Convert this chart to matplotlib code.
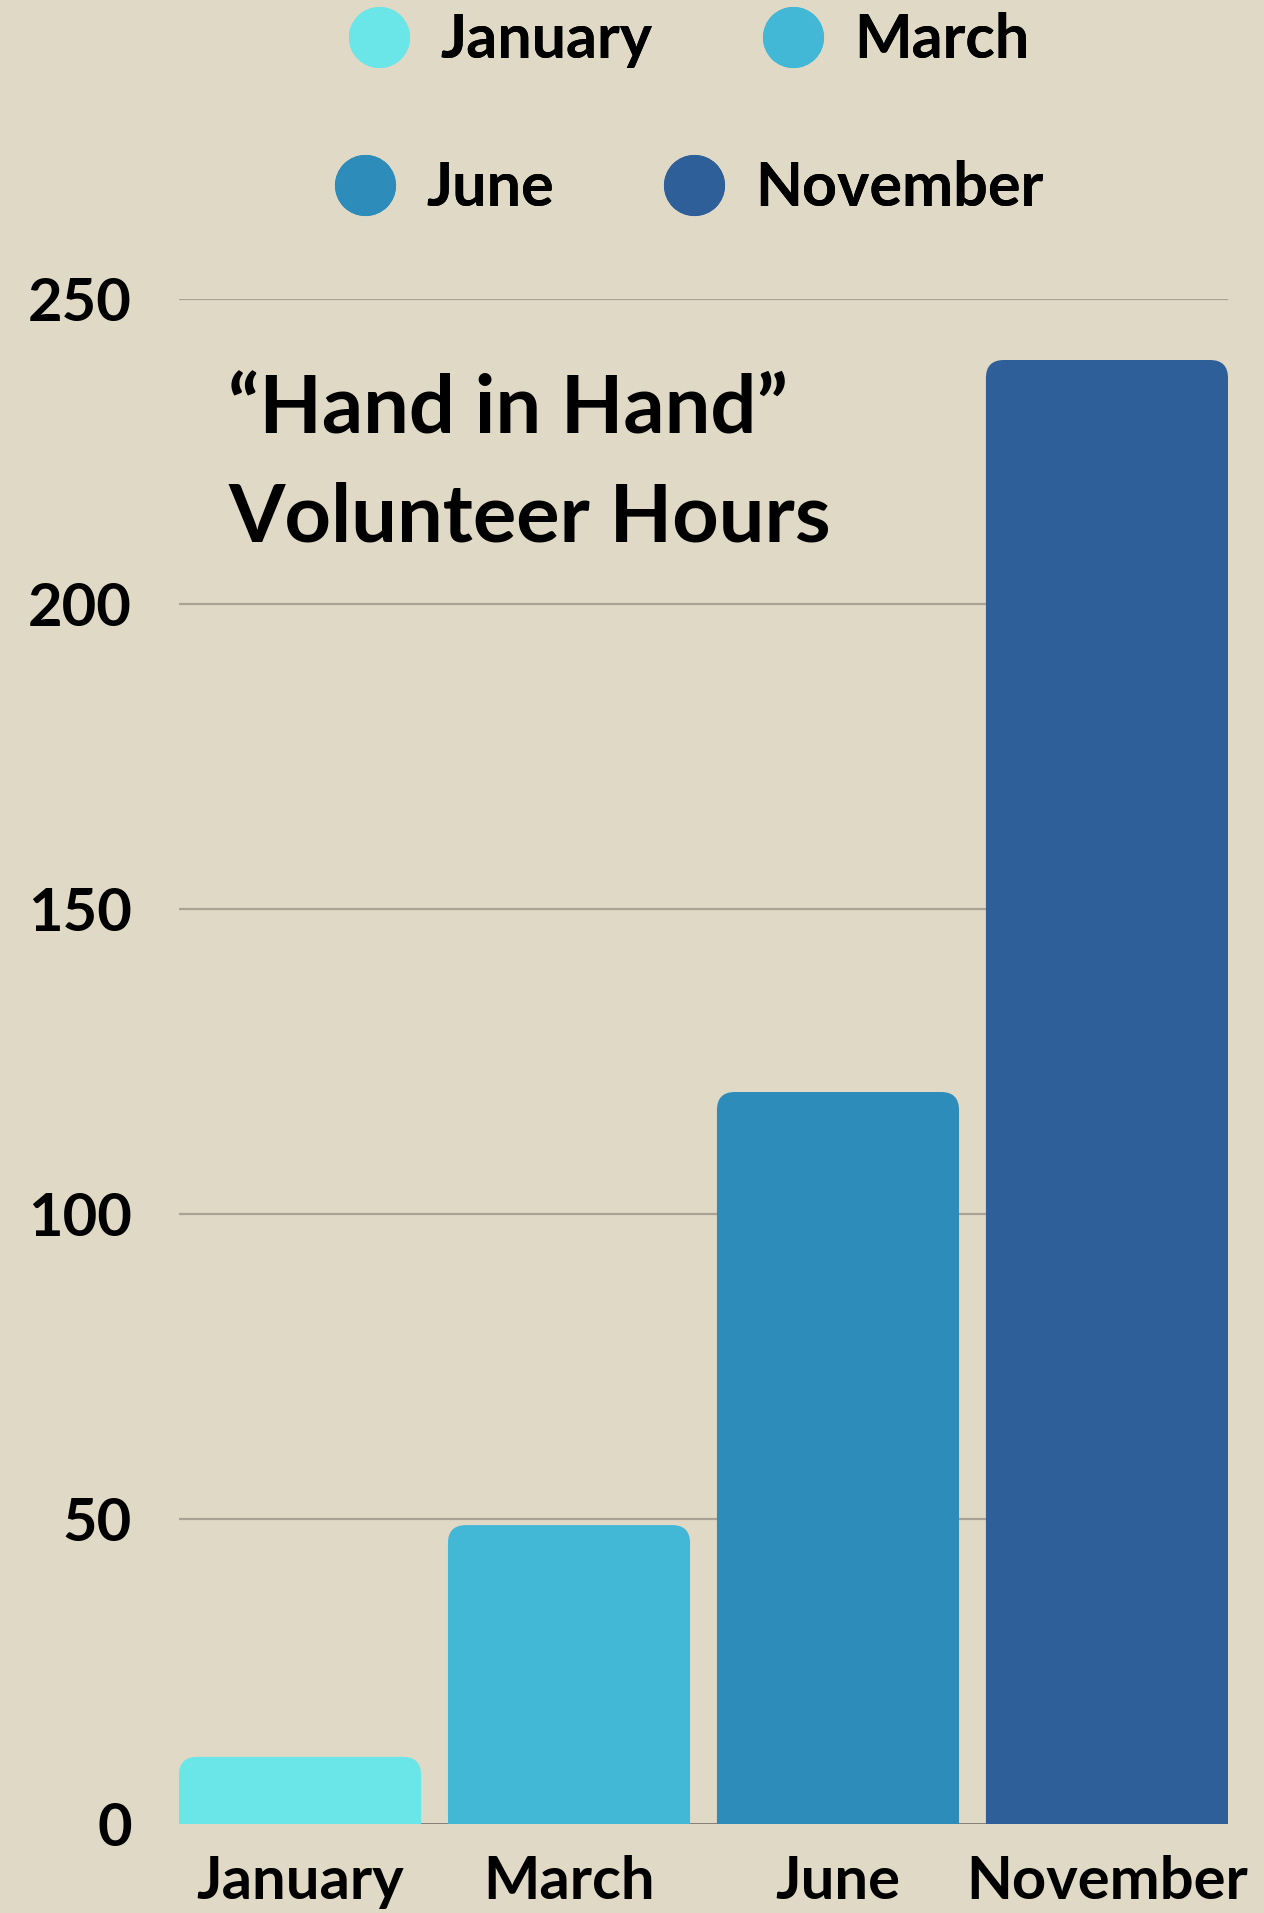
#!/usr/bin/env python3

import matplotlib
matplotlib.use("Agg")
import matplotlib.pyplot as plt
from matplotlib.patches import FancyBboxPatch
from matplotlib.lines import Line2D


# chart data
months = ["January", "March", "June", "November"]
hours = [11, 49, 120, 240]
colors = ["#6be6e8", "#42b7d6", "#2e8cba", "#2e5f99"]
yticks = [0, 50, 100, 150, 200, 250]
title = "\u201cHand in Hand\u201d\nVolunteer Hours"

bg = "#dfd9c6"


def main():

    plt.rcParams['font.family'] = ['Lato', 'DejaVu Sans']

    fig = plt.figure(figsize=(12.64, 19.13), dpi=100, facecolor=bg)
    ax = fig.add_axes([179 / 1264, 89 / 1913, 1049 / 1264, 1525 / 1913])
    ax.set_facecolor(bg)

    width = 0.9
    ax.set_xlim(-width / 2, len(months) - 1 + width / 2)
    ax.set_ylim(0, 250)

    # grid behind bars
    for t in yticks[1:]:
        ax.axhline(t, color="#aaa395", lw=1.6, zorder=0)
    ax.axhline(0, color="#7d786e", lw=2, zorder=0)

    # rounded top bars (bottom corners pushed below the axis and clipped)
    px_x = 1049 / (len(months) - 1 + width)
    px_y = 1525 / 250
    aspect = px_x / px_y
    r = 18 / px_x
    for i, (m, h, c) in enumerate(zip(months, hours, colors)):
        patch = FancyBboxPatch((i - width / 2, -10), width, h + 10,
                               boxstyle=f"round,pad=0,rounding_size={r}",
                               mutation_aspect=aspect,
                               facecolor=c, edgecolor="none", zorder=2)
        ax.add_patch(patch)

    ax.set_xticks(range(len(months)))
    ax.set_xticklabels(months)
    ax.set_yticks(yticks)
    ax.tick_params(axis="both", length=0, labelsize=43, labelcolor="black")
    ax.tick_params(axis="y", pad=34)
    ax.tick_params(axis="x", pad=22)
    for lab in ax.get_xticklabels() + ax.get_yticklabels():
        lab.set_fontweight("bold")
    for s in ax.spines.values():
        s.set_visible(False)

    fig.text(228 / 1264, 1 - 374 / 1913, title,
             fontsize=58.5, fontweight="bold", va="top", ha="left",
             linespacing=1.56, zorder=3)

    # two-row legend
    handles = [Line2D([], [], marker="o", linestyle="none", markersize=44,
                      markerfacecolor=c, markeredgecolor="none") for c in colors]
    rows = [(0, 1, 1913 - 40), (2, 3, 1913 - 188)]
    for a, b, yc in rows:
        leg = fig.legend([handles[a], handles[b]], [months[a], months[b]],
                         ncol=2, loc="center", bbox_to_anchor=(689 / 1264, yc / 1913),
                         frameon=False, handlelength=1.0,
                         handletextpad=0.5, columnspacing=1.8,
                         prop={"weight": "bold", "size": 44})
        fig.add_artist(leg)

    fig.savefig("out.png", dpi=100, facecolor=bg)


if __name__ == "__main__":
    main()
